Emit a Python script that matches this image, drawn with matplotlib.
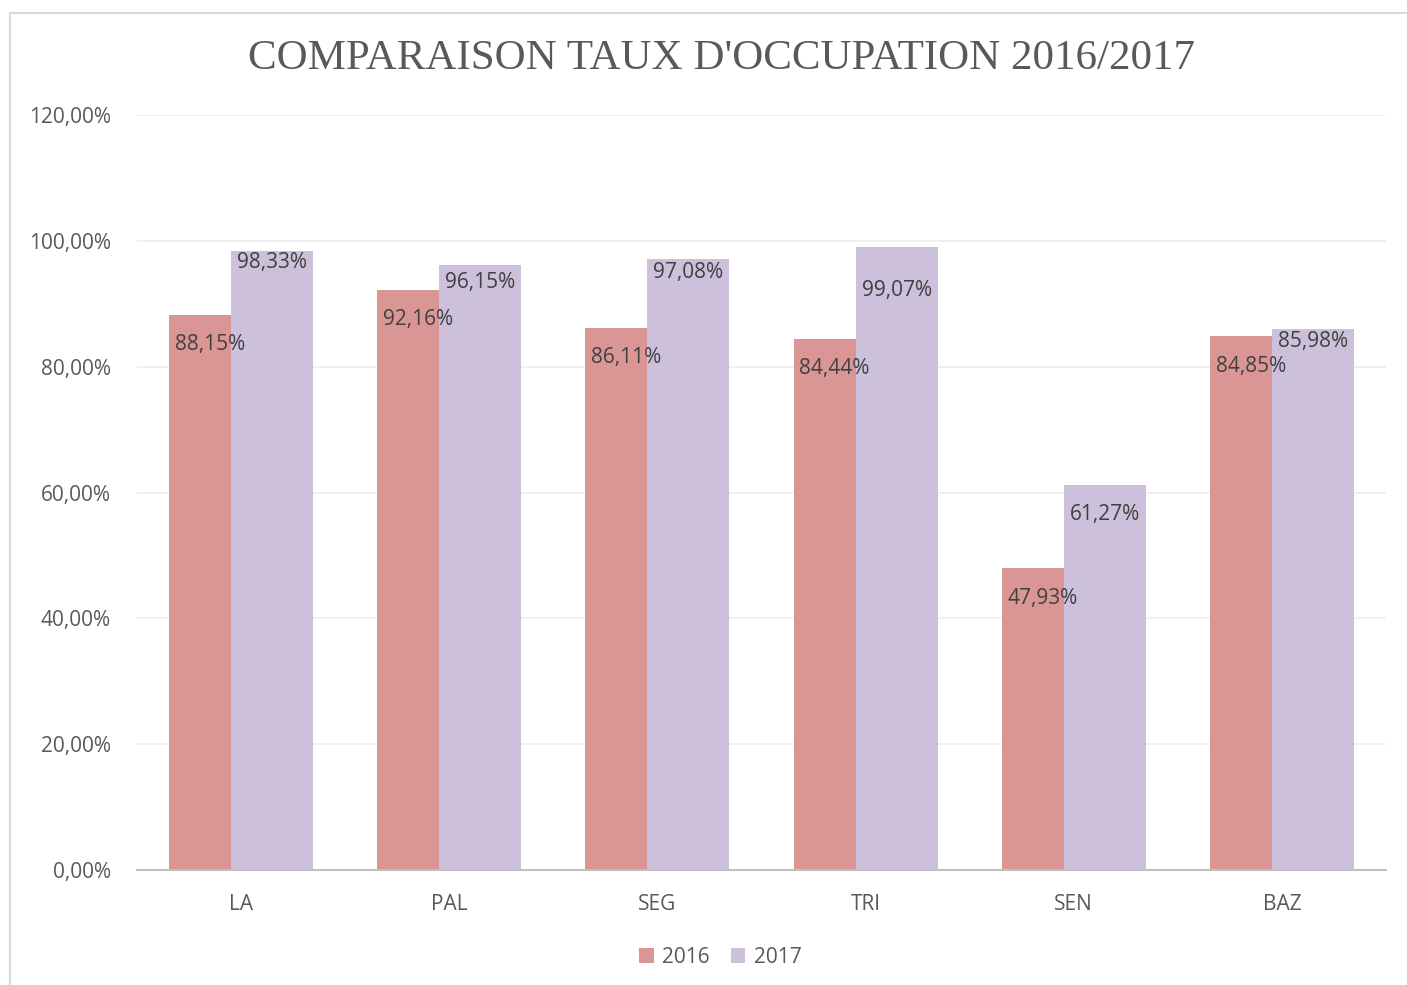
import matplotlib.pyplot as plt
from matplotlib.patches import Rectangle
import numpy as np

categories = ["LA", "PAL", "SEG", "TRI", "SEN", "BAZ"]
taux_2016 = [88.15, 92.16, 86.11, 84.44, 47.93, 84.85]
taux_2017 = [98.33, 96.15, 97.08, 99.07, 61.27, 85.98]
yticks = [0, 20, 40, 60, 80, 100, 120]

# how far below the bar top Excel put each label (in % units)
off_2016 = [4.4, 4.4, 4.4, 4.4, 4.5, 4.6]
off_2017 = [1.4, 2.4, 1.8, 6.6, 4.5, 1.7]

col16 = "#DA9694"
col17 = "#CCC0DA"
txt = "#595959"
font = "Open Sans"

fig = plt.figure(figsize=(14.07, 9.85), dpi=100)
ax = fig.add_axes([0.0974, 0.1168, 0.8877, 0.7664])

# outer chart frame (only top/left visible)
fig.patches.append(Rectangle((10 / 1407, -0.1), 1.2, 1 - 13 / 985 + 0.1,
                             transform=fig.transFigure, fill=False,
                             edgecolor="#D9D9D9", linewidth=1.5))

x = np.arange(len(categories))
w = 0.394
ax.bar(x - 0.149, taux_2016, w, color=col16, label="2016", zorder=2)
ax.bar(x + 0.149, taux_2017, w, color=col17, label="2017", zorder=3)

def fmt(v):
    return f"{v:.2f}%".replace(".", ",")

for i in range(len(categories)):
    ax.text(x[i] - 0.149, taux_2016[i] - off_2016[i] - 0.3, fmt(taux_2016[i]),
            ha="center", va="center", fontsize=15, color="#404040",
            family=font, zorder=5)
    ax.text(x[i] + 0.149, taux_2017[i] - off_2017[i] - 0.3, fmt(taux_2017[i]),
            ha="center", va="center", fontsize=15, color="#404040",
            family=font, zorder=5)

ax.set_xlim(-0.5, len(categories) - 0.5)
ax.set_ylim(0, 120)
ax.set_yticks(yticks)
ax.set_yticklabels([fmt(v) for v in yticks], family=font, fontsize=15, color=txt)
ax.set_xticks(x)
ax.set_xticklabels(categories, family=font, fontsize=15, color=txt)
ax.tick_params(length=0, pad=17)
ax.tick_params(axis="y", pad=19)
ax.grid(axis="y", color="#EFEFEF", linewidth=1.3, zorder=0)
ax.set_axisbelow(True)
for s in ["top", "right", "left"]:
    ax.spines[s].set_visible(False)
ax.spines["bottom"].set_color("#BFBFBF")
ax.spines["bottom"].set_linewidth(1.5)

fig.text(0.513, 0.940, "COMPARAISON TAUX D'OCCUPATION 2016/2017",
         ha="center", va="center", fontsize=31, color=txt,
         family="Liberation Serif")

fig.legend(loc="center", bbox_to_anchor=(0.512, 0.028), ncol=2, frameon=False,
           prop={"family": font, "size": 15}, labelcolor=txt,
           handlelength=0.7, handleheight=0.7, handletextpad=0.4,
           columnspacing=1.0)

plt.savefig("out.png", dpi=100)
